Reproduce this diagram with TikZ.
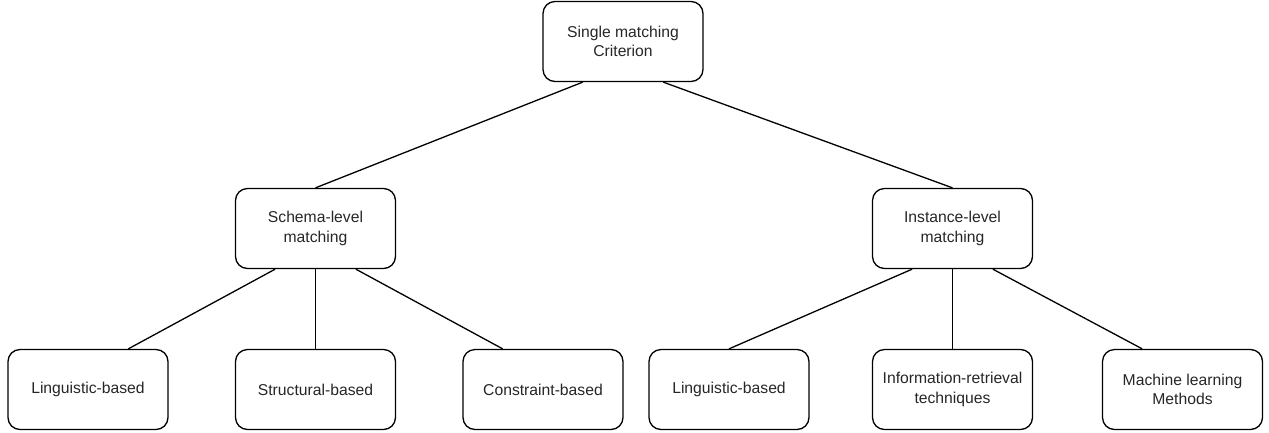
\documentclass[tikz,border=0pt]{standalone}
\usepackage{fontspec}
\setmainfont{Liberation Sans}
\usetikzlibrary{calc}

\begin{document}
\begin{tikzpicture}[x=1pt,y=-1pt,
  box/.style={draw=black, line width=1.3pt, rounded corners=12pt,
    minimum width=160pt, minimum height=80pt, inner sep=0pt,
    align=center, text=black!85, font=\fontsize{15.7}{19.5}\selectfont},
  link/.style={draw=black, line width=1.3pt}]
  \useasboundingbox (0,0) rectangle (1269,432);

  % root
  \node[box] (root) at (623,41.5) {Single matching\\Criterion};

  % second level
  \node[box] (schema) at (315.5,228.5) {Schema-level\\matching};
  \node[box] (inst)   at (952.5,228.5) {Instance-level\\matching};

  % leaves
  \node[box] (ling1)  at (88,389.5)    {Linguistic-based};
  \node[box] (struct) at (315.5,389.5) {Structural-based};
  \node[box] (constr) at (543,389.5)   {Constraint-based};
  \node[box] (ling2)  at (729,389.5)   {Linguistic-based};
  \node[box] (info)   at (952.5,389.5) {Information-retrieval\\techniques};
  \node[box] (ml)     at (1182.5,389.5){Machine learning\\Methods};

  % connectors attached at quarter points of the box edges
  \draw[link] ($(root.south west)!0.25!(root.south east)$) -- (schema.north);
  \draw[link] ($(root.south west)!0.75!(root.south east)$) -- (inst.north);

  \draw[link] ($(schema.south west)!0.25!(schema.south east)$) -- ($(ling1.north west)!0.75!(ling1.north east)$);
  \draw[link] (schema.south) -- (struct.north);
  \draw[link] ($(schema.south west)!0.75!(schema.south east)$) -- ($(constr.north west)!0.25!(constr.north east)$);

  \draw[link] ($(inst.south west)!0.25!(inst.south east)$) -- (ling2.north);
  \draw[link] (inst.south) -- (info.north);
  \draw[link] ($(inst.south west)!0.75!(inst.south east)$) -- ($(ml.north west)!0.25!(ml.north east)$);
\end{tikzpicture}
\end{document}
